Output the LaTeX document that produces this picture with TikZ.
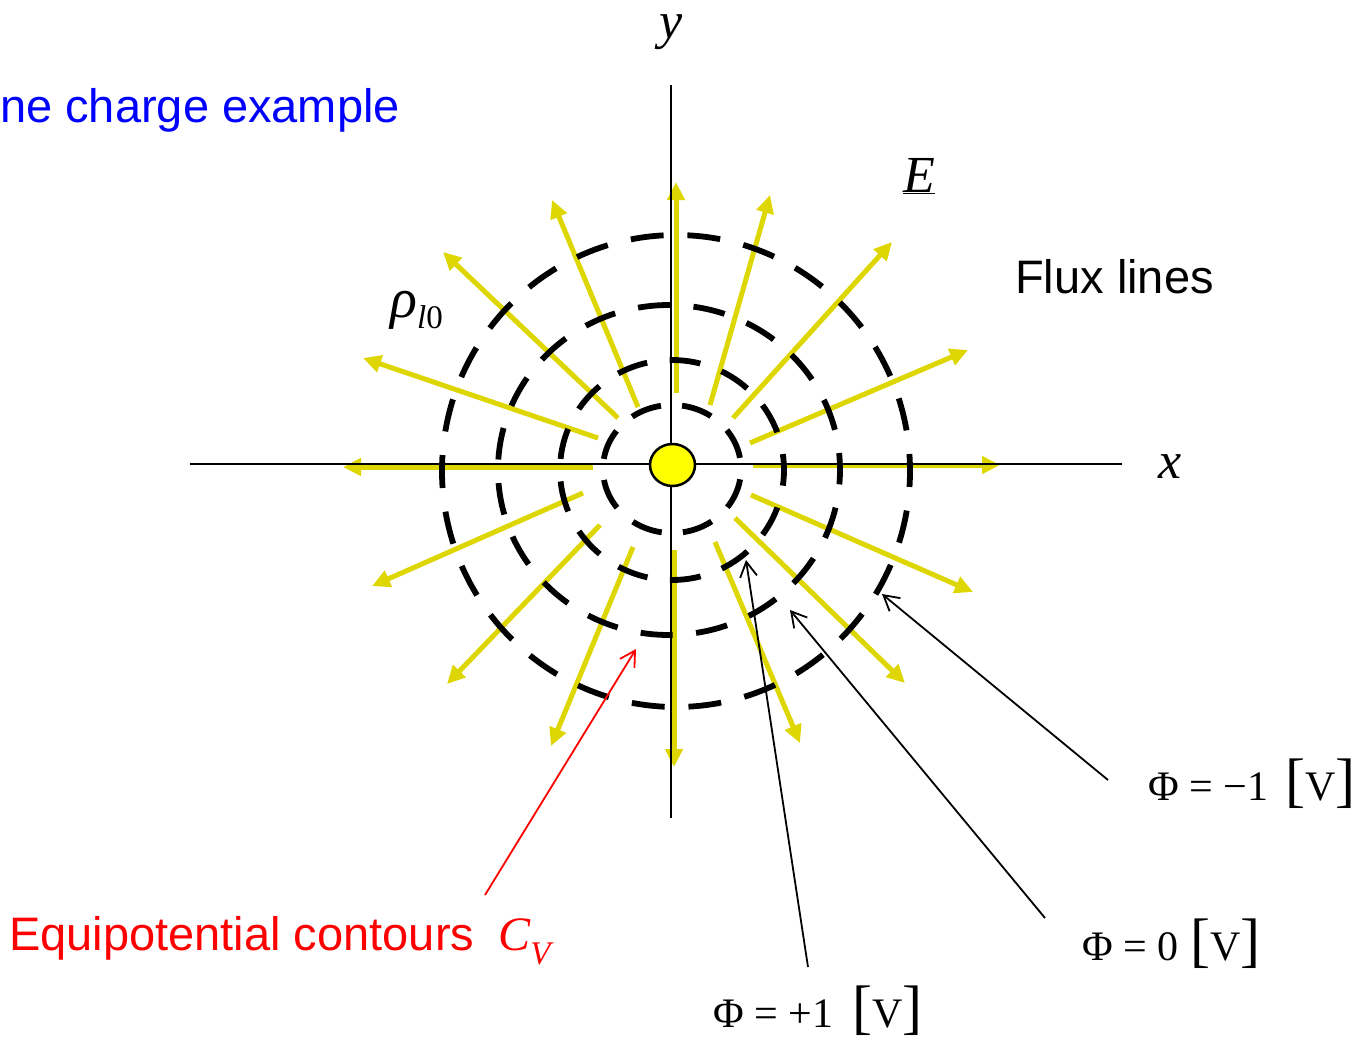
\documentclass[tikz,border=0pt]{standalone}
\usepackage{fontspec}
\setmainfont{Liberation Serif}
\newfontfamily\arialf{Liberation Sans}
\usetikzlibrary{arrows.meta,shapes.geometric}
\definecolor{fluxy}{RGB}{221,214,0}
\definecolor{chg}{RGB}{255,255,0}
\definecolor{ttlblue}{RGB}{0,0,255}
\definecolor{eqred}{RGB}{255,0,0}
\newcommand{\bigbr}[1]{{\fontsize{60}{60}\selectfont #1}}
\begin{document}
\begin{tikzpicture}[x=1pt,y=-1pt,
  flux/.style={draw=fluxy, line width=5pt, -{Triangle[length=18pt,width=17pt]}},
  axisline/.style={line width=2pt, draw=black},
  lead/.style={line width=1.8pt, draw=black, -{Straight Barb[length=15pt,width=17pt]}},
  eqc/.style={line width=5.8pt, draw=black},
  mathlbl/.style={inner sep=0pt, font=\fontsize{52}{60}\selectfont\itshape},
  sanslbl/.style={inner sep=0pt, font=\arialf\fontsize{47}{56}\selectfont},
  philbl/.style={inner sep=0pt, font=\fontsize{42}{50}\selectfont}
]
\useasboundingbox (0,0) rectangle (1357,1042);

% flux lines (yellow arrows)
\draw[flux] (753,465) -- (1000,465);
\draw[flux] (750,443) -- (968,350);
\draw[flux] (733,418) -- (892,242);
\draw[flux] (710,405) -- (770,195);
\draw[flux] (676,393) -- (676,182);
\draw[flux] (638,407) -- (552,200);
\draw[flux] (618,418) -- (443,252);
\draw[flux] (598,438) -- (363,358);
\draw[flux] (593,467) -- (343,467);
\draw[flux] (583,493) -- (372,586);
\draw[flux] (600,525) -- (447,684);
\draw[flux] (633,547) -- (551,746);
\draw[flux] (674,550) -- (674,767);
\draw[flux] (715,542) -- (800,743);
\draw[flux] (735,518) -- (905,683);
\draw[flux] (751,495) -- (973,592);

% axes
\coordinate (xl) at (190,464);
\coordinate (xr) at (1122,464);
\coordinate (yt) at (671,85);
\coordinate (yb) at (671,818);
\draw[axisline] (xl) -- (xr);
\draw[axisline] (yt) -- (yb);

% equipotential contours
\draw[eqc, dash pattern=on 31pt off 21.2pt, dash phase=41pt] (672,469) ellipse [x radius=69pt, y radius=64pt];
\draw[eqc, dash pattern=on 31pt off 22.6pt, dash phase=15pt] (672,470) ellipse [x radius=112pt, y radius=110pt];
\draw[eqc, dash pattern=on 32pt off 23.6pt, dash phase=15pt] (669,470) ellipse [x radius=171pt, y radius=165pt];
\draw[eqc, dash pattern=on 33pt off 23.8pt, dash phase=16pt] (676,471) ellipse [x radius=234pt, y radius=236pt];

% line charge
\node[draw=black, line width=2.5pt, fill=chg, ellipse, minimum width=45pt, minimum height=42pt, inner sep=0pt] (charge) at (672.5,465) {};

% labels
\node[mathlbl, anchor=base] (ylab) at (671,38) {y};
\node[mathlbl, anchor=base] (xlab) at (1170,478) {x};
\node[mathlbl, anchor=base] (Elab) at (919,192) {\underline{E}};
\node[inner sep=0pt, anchor=base west] (rholab) at (390,317)
  {\fontsize{56}{60}\selectfont\itshape ρ\raisebox{-11pt}{\fontsize{33}{35}\selectfont l\upshape 0}};
\node[sanslbl, anchor=base west] (flux) at (1015,293) {Flux lines};
\node[sanslbl, anchor=base west, text=ttlblue] (title) at (0,122) {ne charge example};
\node[inner sep=0pt, anchor=base west, text=eqred] (eqlab) at (9,950)
  {{\arialf\fontsize{47}{56}\selectfont Equipotential contours}\hspace{24pt}{\fontsize{48}{50}\selectfont\itshape C\raisebox{-14pt}{\fontsize{33}{34}\selectfont V}}};

\node[philbl, anchor=base west] (phim1) at (1148,800) {Φ = −1};
\node[philbl, anchor=base west] (phim1u) at (1285,800) {\bigbr{[}V\bigbr{]}};
\node[philbl, anchor=base west] (phi0) at (1082,960) {Φ = 0};
\node[philbl, anchor=base west] (phi0u) at (1190,960) {\bigbr{[}V\bigbr{]}};
\node[philbl, anchor=base west] (phip1) at (713,1027) {Φ = +1};
\node[philbl, anchor=base west] (phip1u) at (852,1027) {\bigbr{[}V\bigbr{]}};

% leader lines
\coordinate (lm1s) at (1108,780);
\coordinate (lm1e) at (882,594);
\coordinate (l0s) at (1045,918);
\coordinate (l0e) at (790,610);
\coordinate (lp1s) at (808,967);
\coordinate (lp1e) at (746,560);
\coordinate (lrs) at (485,895);
\coordinate (lre) at (636,649);
\draw[lead] (lm1s) -- (lm1e);
\draw[lead] (l0s) -- (l0e);
\draw[lead] (lp1s) -- (lp1e);
\draw[lead, draw=eqred] (lrs) -- (lre);
\end{tikzpicture}
\end{document}
